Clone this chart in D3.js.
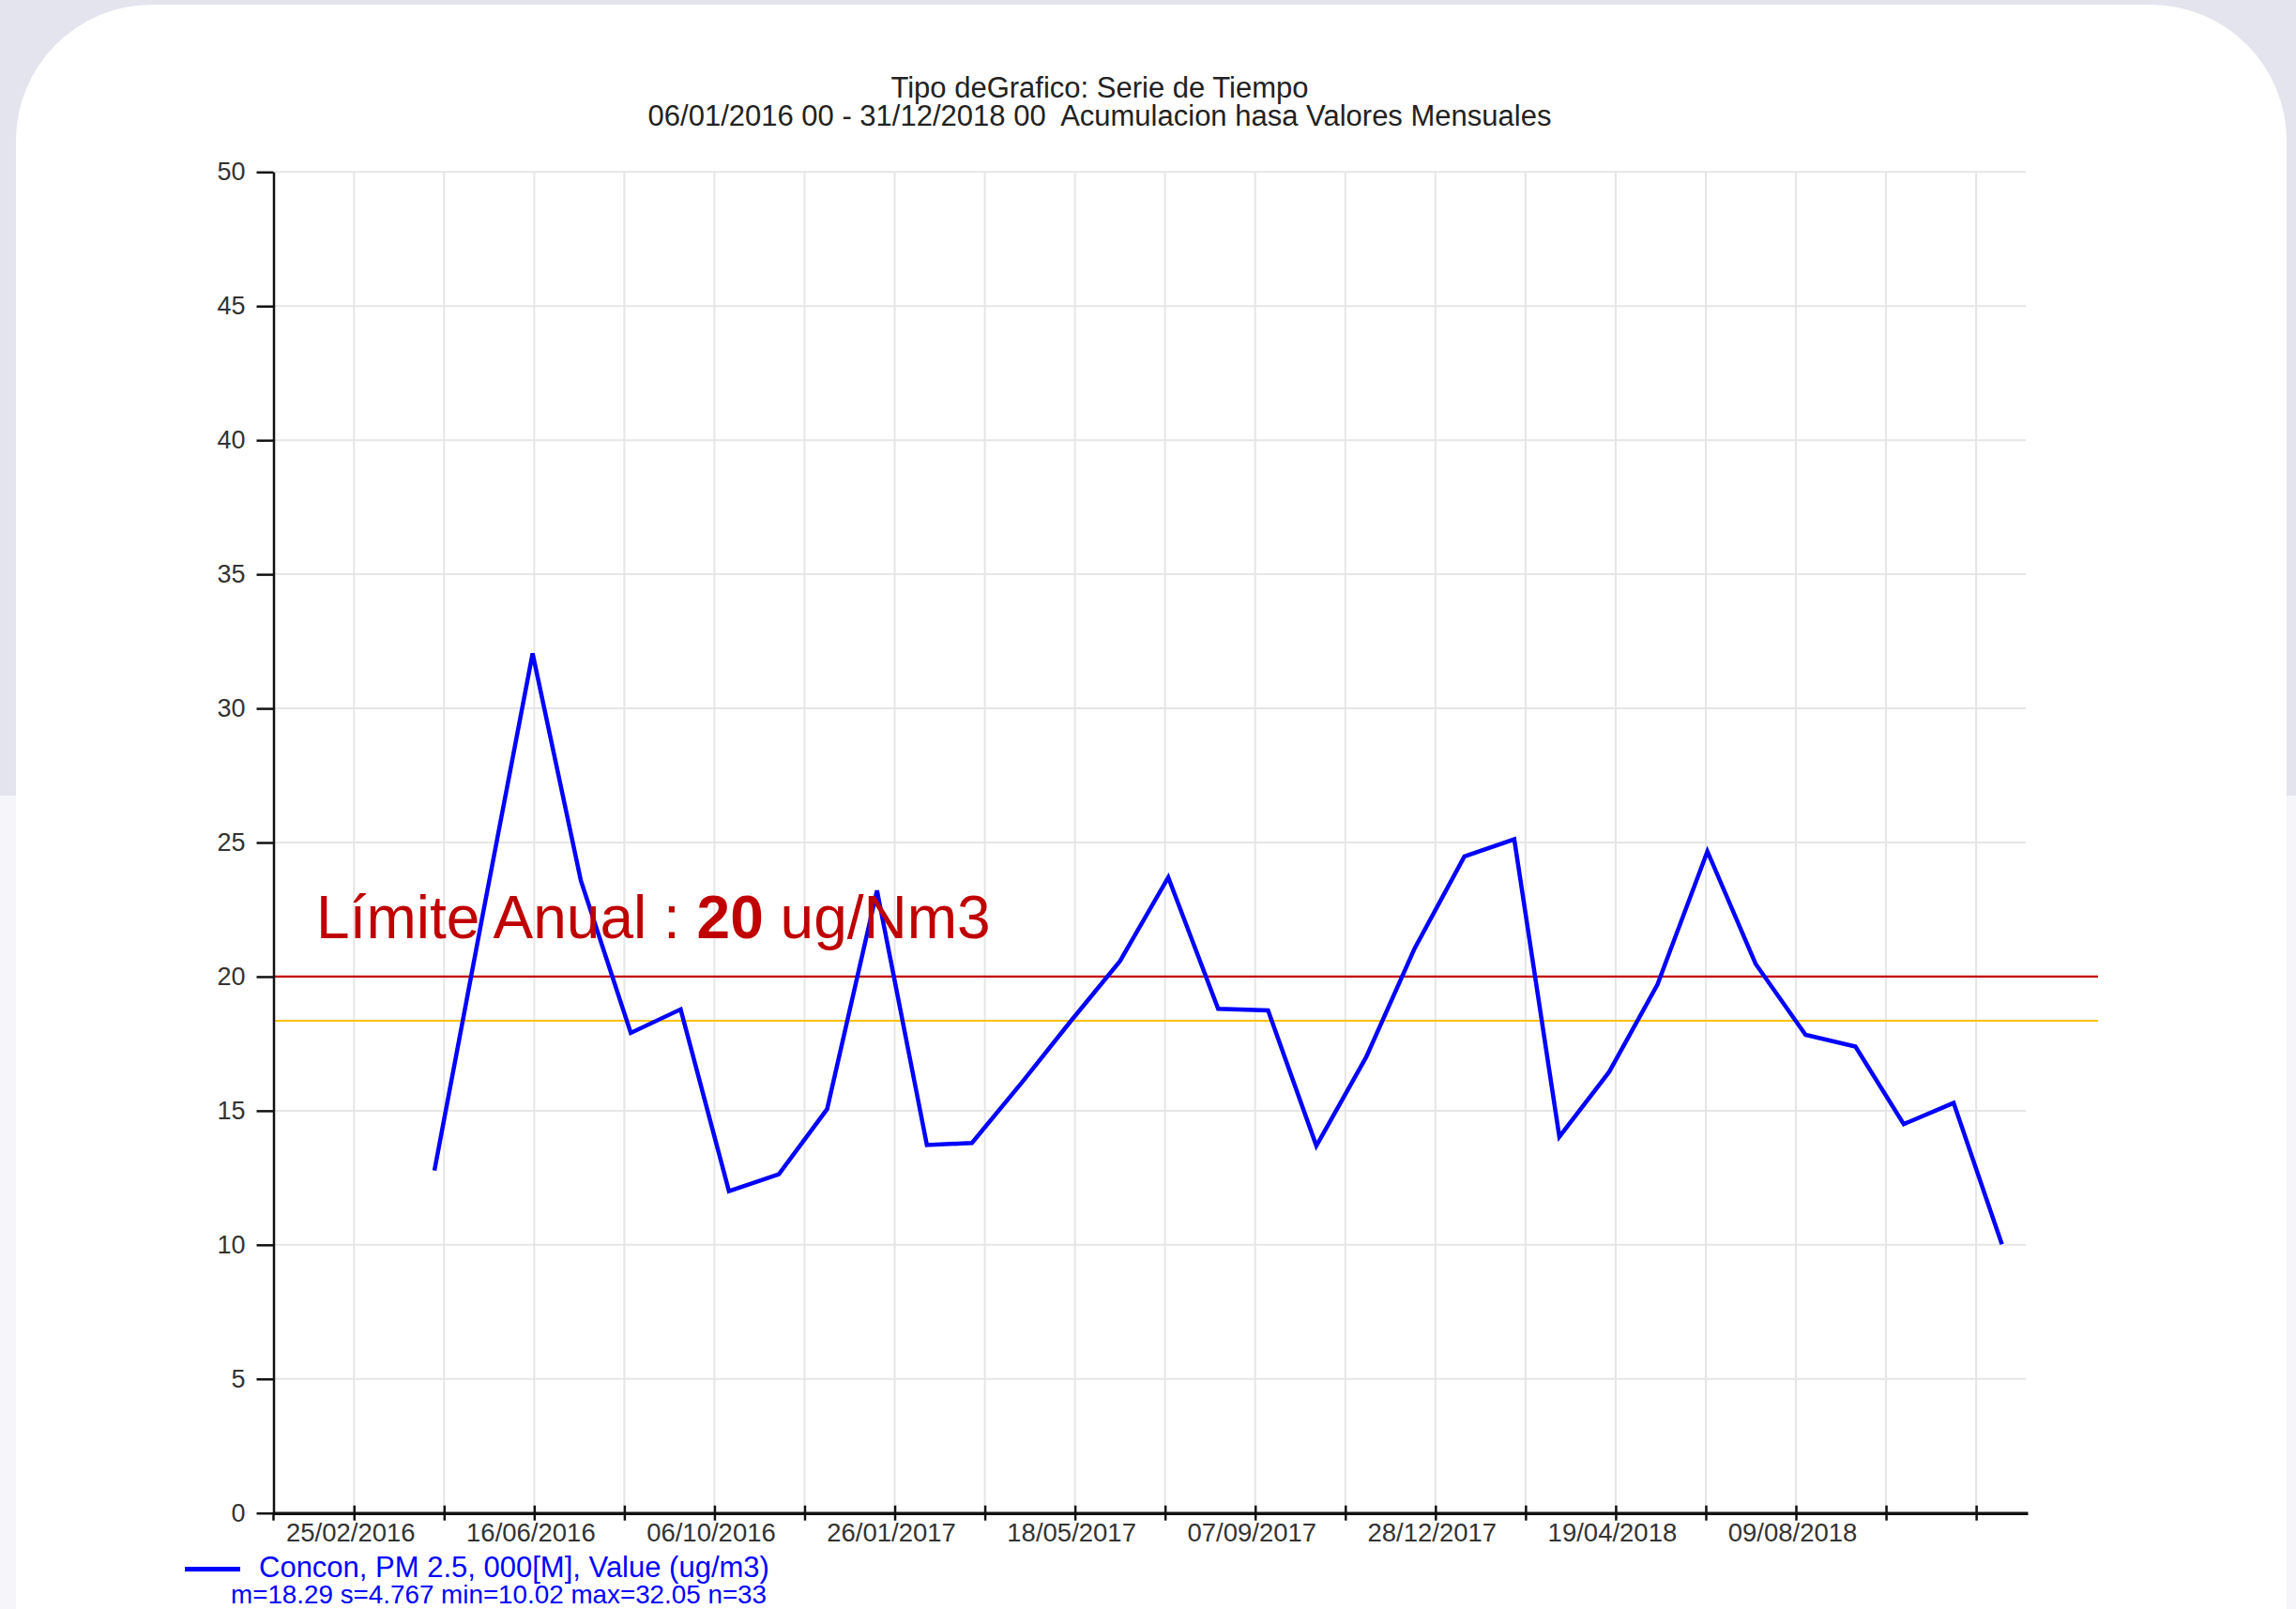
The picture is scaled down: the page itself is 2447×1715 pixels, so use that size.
<!DOCTYPE html>
<html lang="es">
<head>
<meta charset="UTF-8">
<title>Concon PM 2.5 - Serie de Tiempo</title>
<script src="https://cdn.jsdelivr.net/npm/d3@7"></script>
<style>
    html, body { margin: 0; padding: 0; }
    body { width: 2447px; height: 1715px; overflow: hidden; }
    text { font-family: "Liberation Sans", Arial, sans-serif; white-space: pre; }
</style>
</head>
<body>
<svg id="chart" width="2447" height="1715"></svg>
<script>
    // monthly values (plotted mid month)
    const months = ['2016-04','2016-05','2016-06','2016-07','2016-08','2016-09','2016-10','2016-11','2016-12',
        '2017-01','2017-02','2017-03','2017-04','2017-05','2017-06','2017-07','2017-08','2017-09','2017-10','2017-11','2017-12',
        '2018-01','2018-02','2018-03','2018-04','2018-05','2018-06','2018-07','2018-08','2018-09','2018-10','2018-11','2018-12'];
    const pm25 = [12.77, 22.3, 32.05, 23.58, 17.9, 18.78, 12.0, 12.63, 15.06,
        23.21, 13.72, 13.8, 16.05, 18.31, 20.58, 23.7, 18.8, 18.74, 13.69, 17.0, 21.04,
        24.48, 25.12, 14.03, 16.45, 19.71, 24.67, 20.47, 17.83, 17.39, 14.5, 15.29, 10.02];

    const yTicks = [0, 5, 10, 15, 20, 25, 30, 35, 40, 45, 50];
    const xTickDates = ['25/02/2016','21/04/2016','16/06/2016','11/08/2016','06/10/2016','01/12/2016','26/01/2017',
        '23/03/2017','18/05/2017','13/07/2017','07/09/2017','02/11/2017','28/12/2017','22/02/2018','19/04/2018',
        '14/06/2018','09/08/2018','04/10/2018','29/11/2018'];
    const xTickLabels = ['25/02/2016','16/06/2016','06/10/2016','26/01/2017','18/05/2017','07/09/2017',
        '28/12/2017','19/04/2018','09/08/2018'];
    const dateRange = ['06/01/2016', '31/12/2018'];
    const limitValue = 20;

    const titleLines = ['Tipo deGrafico: Serie de Tiempo',
        '06/01/2016 00 - 31/12/2018 00  Acumulacion hasa Valores Mensuales'];
    const legendName = 'Concon, PM 2.5, 000[M], Value (ug/m3)';
    const legendStats = 'm=18.29 s=4.767 min=10.02 max=32.05 n=33';

    const parseDay = d3.timeParse('%d/%m/%Y');
    const parseMonth = d3.timeParse('%Y-%m-%d');
    const fmt = d3.timeFormat('%d/%m/%Y');

    let svg = d3.select('#chart');

    // page background + card
    svg.append('rect').attr('width', 2447).attr('height', 848).attr('fill', '#e4e4ee');
    svg.append('rect').attr('y', 848).attr('width', 2447).attr('height', 867).attr('fill', '#f5f5fa');
    svg.append('rect').attr('x', 17).attr('y', 5).attr('width', 2420).attr('height', 2000)
        .attr('rx', 145).attr('fill', '#ffffff');

    let x = d3.scaleTime().domain(dateRange.map(parseDay)).range([291.5, 2161]);
    let y = d3.scaleLinear().domain([0, 50]).range([1612.7, 183.3]);

    // grid
    svg.append('g').selectAll('line').data(xTickDates).join('line')
        .attr('x1', d => x(parseDay(d))).attr('x2', d => x(parseDay(d)))
        .attr('y1', y(0)).attr('y2', y(50))
        .attr('stroke', '#e6e6e6').attr('stroke-width', 2);
    svg.append('g').selectAll('line').data(yTicks).join('line')
        .attr('x1', x.range()[0]).attr('x2', 2159)
        .attr('y1', d => y(d)).attr('y2', d => y(d))
        .attr('stroke', '#e6e6e6').attr('stroke-width', 2);

    // limit and mean lines
    svg.append('line')
        .attr('x1', x.range()[0]).attr('x2', 2236)
        .attr('y1', y(limitValue)).attr('y2', y(limitValue))
        .attr('stroke', '#c00000').attr('stroke-width', 2.2);
    let mean = d3.mean(pm25);
    svg.append('line')
        .attr('x1', x.range()[0]).attr('x2', 2236)
        .attr('y1', y(mean)).attr('y2', y(mean))
        .attr('stroke', '#ffc000').attr('stroke-width', 2.2);

    // series
    let line = d3.line()
        .x((d, i) => x(parseMonth(months[i] + '-15')))
        .y(d => y(d));
    svg.append('path').datum(pm25)
        .attr('d', line)
        .attr('fill', 'none')
        .attr('stroke', '#0000ff')
        .attr('stroke-width', 4.5);

    // axes
    let yAxis = svg.append('g')
        .attr('transform', `translate(${x.range()[0]},0)`)
        .call(d3.axisLeft(y).tickValues(yTicks).tickSize(18).tickPadding(12).tickSizeOuter(0));
    yAxis.select('.domain').attr('stroke', '#111').attr('stroke-width', 2.5);
    yAxis.selectAll('.tick line').attr('stroke', '#111').attr('stroke-width', 2.5);
    yAxis.selectAll('.tick text').attr('font-size', 27).attr('fill', '#333')
        .attr('font-family', '"Liberation Sans", Arial, sans-serif');
    svg.append('line')
        .attr('x1', x.range()[0]).attr('x2', x.range()[0])
        .attr('y1', y(0)).attr('y2', y(0) + 8)
        .attr('stroke', '#111').attr('stroke-width', 2.5);

    let xAxis = svg.append('g')
        .attr('transform', `translate(0,${y(0)})`)
        .call(d3.axisBottom(x)
            .tickValues(xTickDates.map(parseDay))
            .tickFormat(d => xTickLabels.includes(fmt(d)) ? fmt(d) : '')
            .tickSizeOuter(0));
    xAxis.select('.domain').attr('stroke', '#111').attr('stroke-width', 3.5);
    xAxis.selectAll('.tick line').attr('y1', -8).attr('y2', 8)
        .attr('stroke', '#111').attr('stroke-width', 2.5);
    xAxis.selectAll('.tick text').attr('y', 30).attr('dy', 0).attr('x', -4)
        .attr('font-size', 27.5).attr('fill', '#333')
        .attr('font-family', '"Liberation Sans", Arial, sans-serif');

    // title
    svg.append('g').selectAll('text').data(titleLines).join('text')
        .attr('x', 1172).attr('y', (d, i) => 104 + i * 30)
        .attr('text-anchor', 'middle')
        .attr('font-size', 31).attr('fill', '#222')
        .text(d => d);

    // limit label
    let lbl = svg.append('text')
        .attr('x', 337).attr('y', 1000)
        .attr('font-size', 64).attr('fill', '#c00000');
    lbl.append('tspan').text('Límite Anual : ');
    lbl.append('tspan').attr('font-weight', 'bold').text(limitValue);
    lbl.append('tspan').text(' ug/Nm3');

    // legend
    svg.append('line')
        .attr('x1', 197).attr('x2', 256).attr('y1', 1672.5).attr('y2', 1672.5)
        .attr('stroke', '#0000ff').attr('stroke-width', 5);
    svg.append('text')
        .attr('x', 276).attr('y', 1681)
        .attr('font-size', 31).attr('fill', '#0000ff')
        .text(legendName);
    svg.append('text')
        .attr('x', 246).attr('y', 1709)
        .attr('font-size', 27.8).attr('fill', '#0000ff')
        .text(legendStats);
</script>
</body>
</html>
